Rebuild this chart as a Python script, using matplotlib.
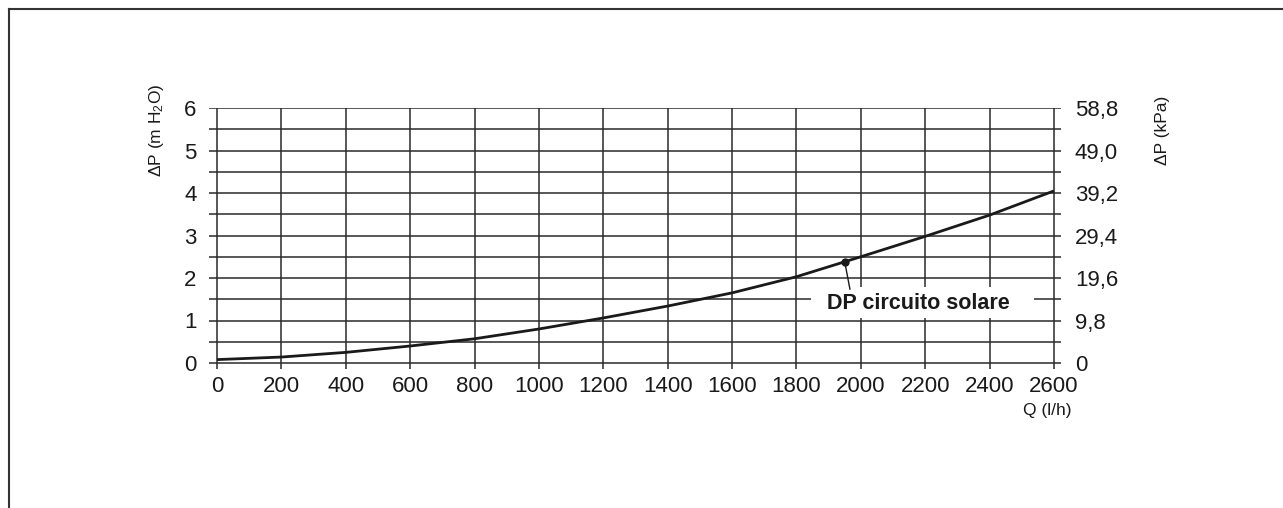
import matplotlib
matplotlib.use('Agg')
import matplotlib.pyplot as plt
from matplotlib.lines import Line2D
from matplotlib.patches import Rectangle

plt.rcParams['font.family'] = ['Liberation Sans', 'DejaVu Sans']
plt.rcParams['mathtext.fontset'] = 'custom'
plt.rcParams['mathtext.rm'] = 'Liberation Sans'
plt.rcParams['mathtext.it'] = 'Liberation Sans'

# flow rate (l/h) and pressure drop (m H2O)
flow = [0, 200, 400, 600, 800, 1000, 1200, 1400, 1600, 1800, 2000, 2200, 2400, 2600]
dp_m = [0.08, 0.14, 0.25, 0.40, 0.57, 0.80, 1.06, 1.34, 1.65, 2.03, 2.50, 2.98, 3.48, 4.05]

x_ticks = list(range(0, 2601, 200))
y_ticks = [0, 1, 2, 3, 4, 5, 6]
kpa_labels = ['0', '9,8', '19,6', '29,4', '39,2', '49,0', '58,8']
grid_rows = [i * 0.5 for i in range(13)]

marker_q, marker_dp = 1950, 2.38
label_text = 'DP circuito solare'

W, H = 1283, 508
fig = plt.figure(figsize=(W / 100, H / 100), dpi=100)

# axes box spans the tick stubs too
left, right, top, bottom = 209, 1061, 108, 369
ax = fig.add_axes([left / W, 1 - bottom / H, (right - left) / W, (bottom - top) / H])
px_x = 200 / 64.4
px_y = 1 / 42.5
xmin, xmax = -8 * px_x, 2600 + 7 * px_x
ymin, ymax = -6 * px_y, 6
ax.set_xlim(xmin, xmax)
ax.set_ylim(ymin, ymax)

grid_col = '#2a2a2a'
ax.hlines(grid_rows, xmin, xmax, color=grid_col, lw=1.1, zorder=1)
ax.vlines(x_ticks, ymin, ymax, color=grid_col, lw=1.1, zorder=1)

# white patch behind the label
ax.add_patch(Rectangle((1845, 1.06), 2537 - 1845, 0.73, facecolor='white',
                       edgecolor='none', zorder=2))

ax.plot(flow, dp_m, color='#1a1a1a', lw=2.0, zorder=3, solid_capstyle='butt')
ax.plot([marker_q], [marker_dp], 'o', color='#1a1a1a', ms=5, zorder=4)
ax.plot([marker_q, 1966], [marker_dp, 1.74], color='#1a1a1a', lw=1.0, zorder=3)
ax.text(1894, 1.41, label_text, fontsize=15.5, fontweight='bold', color='#1a1a1a',
        ha='left', va='center', zorder=5)

for s in ax.spines.values():
    s.set_visible(False)
ax.set_xticks(x_ticks)
ax.set_yticks(y_ticks)
ax.tick_params(axis='both', length=0, labelsize=16, colors='#1a1a1a')
ax.tick_params(axis='x', pad=5)
ax.tick_params(axis='y', pad=9)

ax2 = ax.twinx()
ax2.set_ylim(ymin, ymax)
ax2.set_yticks(y_ticks)
ax2.set_yticklabels(kpa_labels)
ax2.tick_params(axis='y', length=0, labelsize=16, pad=10, colors='#1a1a1a')
for s in ax2.spines.values():
    s.set_visible(False)

fig.text(157 / W, 1 - 130 / H, 'ΔP (m H$_2$O)', rotation=90, fontsize=12.5,
         ha='center', va='center', color='#1a1a1a')
fig.text(1163 / W, 1 - 130 / H, 'ΔP (kPa)', rotation=90, fontsize=12.5,
         ha='center', va='center', color='#1a1a1a')
fig.text(1047 / W, 1 - 411 / H, 'Q (l/h)', fontsize=12.5,
         ha='center', va='center', color='#1a1a1a')

# page frame, left and top edges only
fig.add_artist(Line2D([9 / W, 9 / W], [0, 1 - 9 / H], transform=fig.transFigure,
                      color='#333333', lw=1.5))
fig.add_artist(Line2D([9 / W, 1], [1 - 9 / H, 1 - 9 / H], transform=fig.transFigure,
                      color='#333333', lw=1.5))

fig.savefig('out.png', dpi=100)
